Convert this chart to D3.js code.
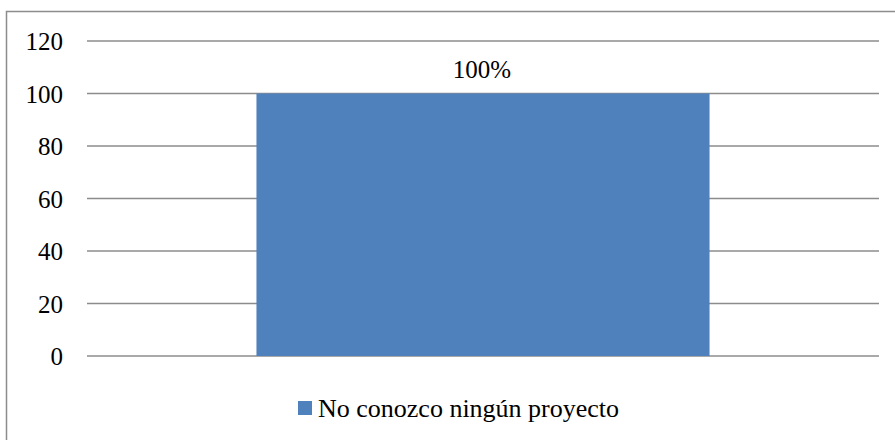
<!DOCTYPE html>
<html><head><meta charset="utf-8">
<script src="https://cdn.jsdelivr.net/npm/d3@7"></script>
<style>body{margin:0;background:#fff}svg{display:block}</style>
</head><body>
<script>
const categories = ["No conozco ningún proyecto"];
const values = [100];
const valueLabels = ["100%"];
const yTicks = [0, 20, 40, 60, 80, 100, 120];

const W = 895, H = 440;
const FONT = "'Liberation Serif'";
const svg = d3.select("body").append("svg").attr("width", W).attr("height", H);
svg.append("rect").attr("x", 6.5).attr("y", 11.5).attr("width", 900).attr("height", 440)
  .attr("fill", "none").attr("stroke", "#8c8c8c").attr("stroke-width", 1.5);

const x0 = 87, x1 = 879;
const y = d3.scaleLinear().domain([0, 120]).range([356, 41]);
const x = d3.scaleBand().domain(categories).range([x0, x1]).paddingInner(0).paddingOuter(0.374);

const grid = svg.append("g");
yTicks.forEach(t => {
  grid.append("line").attr("x1", x0).attr("x2", x1).attr("y1", y(t)).attr("y2", y(t))
    .attr("stroke", "#8c8c8c").attr("stroke-width", 1.6);
});
const yAxis = d3.axisLeft(y).tickValues(yTicks).tickSize(0).tickPadding(0);
const ga = svg.append("g").attr("transform", "translate(63,0)").call(yAxis);
ga.attr("font-family", null).attr("font-size", null);
ga.select(".domain").remove();
ga.selectAll("text").style("font-size", "25px").style("font-family", FONT).attr("fill", "#000").attr("dy", "0.34em");

svg.selectAll("rect.bar").data(values).enter().append("rect").attr("class", "bar")
  .attr("x", (d, i) => x(categories[i])).attr("width", x.bandwidth())
  .attr("y", d => y(d)).attr("height", d => y(0) - y(d)).attr("fill", "#4f81bd");

svg.selectAll("text.lbl").data(values).enter().append("text").attr("class", "lbl")
  .attr("x", (d, i) => x(categories[i]) + x.bandwidth() / 2 - 1).attr("y", d => y(d) - 16)
  .attr("text-anchor", "middle").style("font-size", "25px").style("font-family", FONT).attr("fill", "#000").text((d, i) => valueLabels[i]);

const leg = svg.append("g");
leg.append("rect").attr("x", 298).attr("y", 401).attr("width", 14).attr("height", 14).attr("fill", "#4f81bd");
leg.append("text").attr("x", 318).attr("y", 417).style("font-size", "26px").style("font-family", FONT).attr("fill", "#000").text(categories[0]);
</script>
</body></html>
